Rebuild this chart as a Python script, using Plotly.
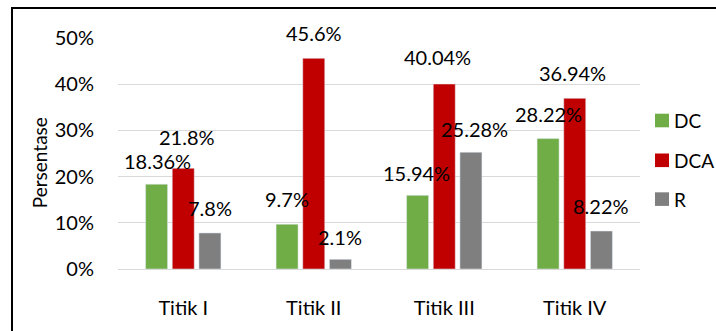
import plotly.graph_objects as go

categories = ["Titik I", "Titik II", "Titik III", "Titik IV"]
dc = [18.36, 9.7, 15.94, 28.22]
dca = [21.8, 45.6, 40.04, 36.94]
r = [7.8, 2.1, 25.28, 8.22]
series_names = ["DC", "DCA", "R"]
colors = ["#70ad47", "#c00000", "#7f7f7f"]
y_ticks = [0, 10, 20, 30, 40, 50]
y_tick_labels = ["0%", "10%", "20%", "30%", "40%", "50%"]

FONT = "Lato"
FS = 20
series = [dc, dca, r]

# per-label pixel offsets (dx, dy above bar top) to mimic manually moved labels
label_offsets = [
    [(1, 23), (0, 25), (-1, 22), (0, 25)],   # DC
    [(4, 31), (0, 25), (-7, 27), (-2, 25)],  # DCA
    [(0, 25), (0, 22), (4, 23), (0, 25)],    # R
]

W, H = 716, 331
L, R, T, B = 118, 76, 38, 55
pw, ph = W - L - R, H - T - B
def px_to_paper(px, py):
    return (px - L) / pw, (H - B - py) / ph

fig = go.Figure()
for name, vals, col in zip(series_names, series, colors):
    fig.add_trace(go.Bar(
        x=categories, y=vals, name=name, marker_color=col,
        showlegend=False,
    ))

bar_offsets = [-1, 0, 1]
slot = (1 - 0.387) / 3
annotations = []
shapes = []
for si, vals in enumerate(series):
    for ci, v in enumerate(vals):
        dx, dy = label_offsets[si][ci]
        annotations.append(dict(
            x=ci + bar_offsets[si] * slot, y=v, xref="x", yref="y",
            text=f"{v:g}%", showarrow=False,
            xshift=dx, yshift=dy,
            font=dict(family=FONT, size=FS, color="#000000"),
        ))

# y-axis title
ax, ay = px_to_paper(39, 167)
annotations.append(dict(
    x=ax, y=ay, xref="paper", yref="paper", text="Persentase",
    showarrow=False, textangle=-90, xanchor="center", yanchor="middle",
    font=dict(family=FONT, size=19, color="#000000"),
))

# legend (drawn as layout items, from the series names and colours)
legend_rows = [123, 164, 204]
for name, col, yc in zip(series_names, colors, legend_rows):
    x0, y0 = px_to_paper(655, yc + 7)
    x1, y1 = px_to_paper(669, yc - 7)
    shapes.append(dict(type="rect", xref="paper", yref="paper",
                       x0=x0, y0=y0, x1=x1, y1=y1,
                       fillcolor=col, line=dict(width=0)))
    tx, ty = px_to_paper(672, yc)
    annotations.append(dict(
        x=tx, y=ty, xref="paper", yref="paper", text=name,
        showarrow=False, xanchor="left", yanchor="middle",
        font=dict(family=FONT, size=19, color="#000000"),
    ))

bx0, by0 = px_to_paper(12, 7)
bx1, by1 = px_to_paper(740, 360)
shapes.append(dict(type="rect", xref="paper", yref="paper",
                   x0=bx0, y0=by1, x1=bx1, y1=by0,
                   line=dict(color="black", width=2), layer="above"))

fig.update_layout(
    width=W, height=H,
    margin=dict(l=L, r=R, t=T, b=B, pad=0),
    paper_bgcolor="white", plot_bgcolor="white",
    barmode="group", bargap=0.387, bargroupgap=0.175,
    font=dict(family=FONT, size=FS, color="#000000"),
    showlegend=False,
    annotations=annotations,
    shapes=shapes,
    xaxis=dict(
        showgrid=False, showline=False, zeroline=False,
        ticks="outside", ticklen=21, tickcolor="rgba(0,0,0,0)",
        tickfont=dict(family=FONT, size=FS),
    ),
    yaxis=dict(
        range=[0, 50], tickmode="array", tickvals=y_ticks, ticktext=y_tick_labels,
        showgrid=True, gridcolor="#d9d9d9", gridwidth=1.3,
        zeroline=True, zerolinecolor="#d9d9d9", zerolinewidth=1.3,
        showline=False,
        ticks="outside", ticklen=19, tickcolor="rgba(0,0,0,0)",
        tickfont=dict(family=FONT, size=FS),
    ),
)

fig.write_html("out.html")
